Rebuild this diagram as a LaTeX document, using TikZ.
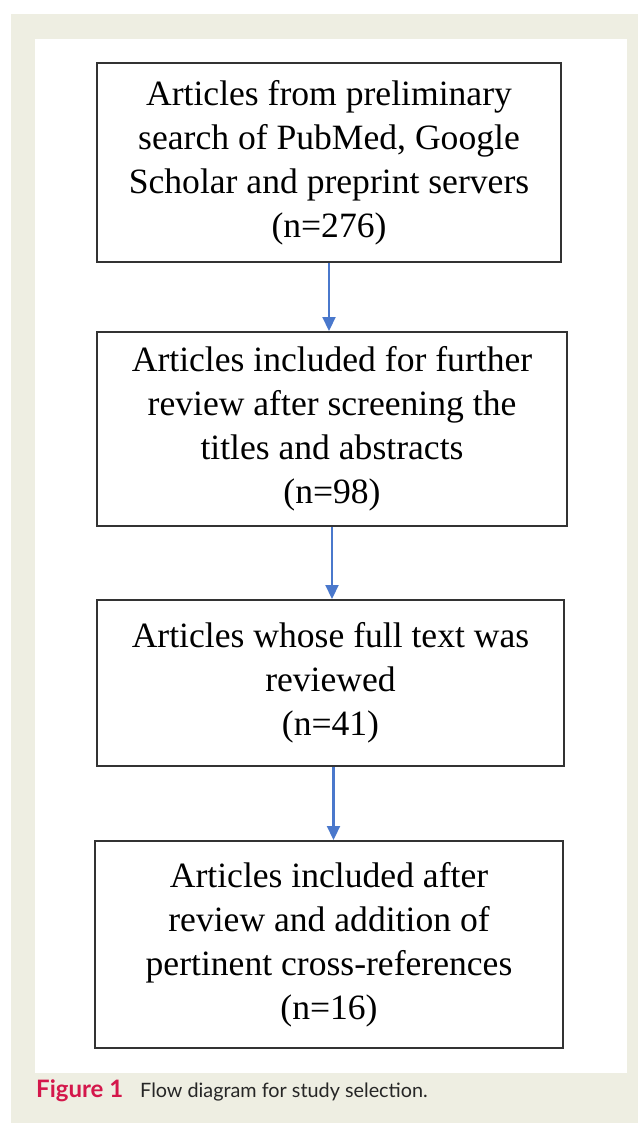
\documentclass[tikz,border=0pt]{standalone}
\usepackage{fontspec}
\setmainfont{Liberation Serif}
\newfontfamily\capfont{Lato}
\usetikzlibrary{arrows.meta}
\definecolor{beige}{HTML}{EEEEE2}
\definecolor{boxline}{HTML}{333333}
\definecolor{arrowblue}{HTML}{4A78CC}
\definecolor{figred}{HTML}{D4174B}
\begin{document}
\begin{tikzpicture}[x=1pt,y=-1pt,
  stepbox/.style={draw=boxline,line width=2pt,rectangle,align=center,inner sep=0pt,font=\fontsize{35.6}{44}\selectfont},
  flow/.style={draw=arrowblue,line width=2.2pt,-{Triangle[width=13pt,length=14pt]}}]
\useasboundingbox (0,0) rectangle (638,1123);
\fill[white] (0,0) rectangle (638,1123);
\fill[beige] (11,14) rectangle (638,1123);
\fill[white] (35,39) rectangle (627,1073);
\node[stepbox,minimum width=464pt,minimum height=199pt] (b1) at (329,162.5)
  {Articles from preliminary\\search of PubMed, Google\\Scholar and preprint servers\\(n=276)};
\node[stepbox,minimum width=470pt,minimum height=194pt] (b2) at (332,429)
  {Articles included for further\\review after screening the\\titles and abstracts\\(n=98)};
\node[stepbox,minimum width=467pt,minimum height=166pt] (b3) at (330.5,683)
  {Articles whose full text was\\reviewed\\(n=41)};
\node[stepbox,minimum width=468pt,minimum height=207pt] (b4) at (329,944.5)
  {Articles included after\\review and addition of\\pertinent cross-references\\(n=16)};
\draw[flow] (b1.south) -- (b1.south |- b2.north);
\draw[flow] (b2.south) -- (b2.south |- b3.north);
\draw[flow] ([xshift=3pt]b3.south) -- ([xshift=3pt]b3.south |- b4.north);
\node[anchor=base west,font=\capfont\bfseries\fontsize{24}{28}\selectfont,text=figred,inner sep=0pt] (figlabel) at (36,1097) {Figure 1};
\node[anchor=base west,font=\capfont\fontsize{19.8}{24}\selectfont,text=black!85,inner sep=0pt] (figtext) at (140,1097) {Flow diagram for study selection.};
\end{tikzpicture}
\end{document}
